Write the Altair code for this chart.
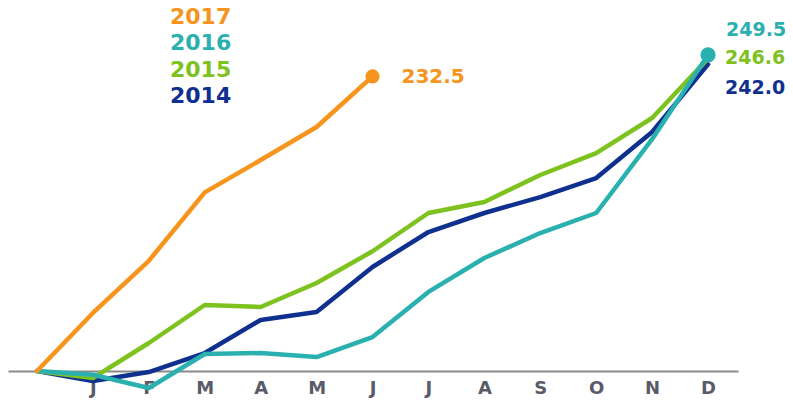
import altair as alt
import pandas as pd

months = ["", "J", "F", "M", "A", "M", "J", "J", "A", "S", "O", "N", "D"]
years = ["2017", "2016", "2015", "2014"]
colors = ["#F7941D", "#2BB0B0", "#7DC21E", "#10308F"]

v2017 = [0, 45.8, 87.0, 141.0, 166.5, 192.6, 232.5]
v2016 = [0, -3.0, -13.4, 13.4, 14.2, 11.0, 26.8, 62.4, 89.2, 108.9, 124.7, 183.0, 249.5]
v2015 = [0, -5.5, 22.1, 52.1, 50.5, 69.5, 94.5, 124.7, 133.4, 154.7, 172.0, 199.7, 246.6]
v2014 = [0, -7.9, -0.8, 14.2, 40.3, 46.6, 82.1, 109.7, 124.7, 137.3, 152.3, 188.6, 242.0]
series = [v2017, v2016, v2015, v2014]
end_labels = ["232.5", "249.5", "246.6", "242.0"]

rows = []
for yr, vals in zip(years, series):
    for i, v in enumerate(vals):
        rows.append({"year": yr, "m": i, "value": v})
df = pd.DataFrame(rows)

xscale = alt.Scale(domain=[-0.5186, 12.536], nice=False, zero=False)
yscale = alt.Scale(domain=[0, 286.5], nice=False, zero=False)

label_expr = "[" + ",".join("'" + m + "'" for m in months) + "][datum.value]"

layers = []
# draw order bottom -> top : 2014, 2015, 2016, 2017
for idx in [3, 2, 1, 0]:
    sub = df[df.year == years[idx]]
    enc_x = alt.X("m:Q", scale=xscale,
                  axis=alt.Axis(values=list(range(1, 13)), labelExpr=label_expr,
                                title=None, grid=False, ticks=False,
                                domainColor="#8a8a8a", domainWidth=2,
                                labelFont="DejaVu Sans", labelFontSize=18,
                                labelFontWeight="bold",
                                labelColor="#5a5a68", labelPadding=8,
                                labelFlush=False, labelOverlap=False)) if idx == 3 else alt.X("m:Q", scale=xscale)
    enc_y = alt.Y("value:Q", scale=yscale, axis=None)
    layers.append(
        alt.Chart(sub).mark_line(color=colors[idx], strokeWidth=4.5,
                                 strokeJoin="round", strokeCap="round")
        .encode(x=enc_x, y=enc_y)
    )

# end dots
for idx, size in [(0, 200), (1, 230)]:
    sub = df[df.year == years[idx]].tail(1)
    layers.append(
        alt.Chart(sub).mark_circle(color=colors[idx], size=size, opacity=1)
        .encode(x=alt.X("m:Q", scale=xscale), y=alt.Y("value:Q", scale=yscale))
    )

# value labels at line ends
offsets = {0: (29, 1), 1: (18, -25), 2: (17, -1), 3: (17, 24)}
for idx in range(4):
    sub = df[df.year == years[idx]].tail(1).copy()
    sub["label"] = end_labels[idx]
    dx, dy = offsets[idx]
    layers.append(
        alt.Chart(sub).mark_text(color=colors[idx], font="DejaVu Sans",
                                 fontWeight="bold", fontSize=20 if idx == 0 else 19,
                                 align="left", baseline="middle", dx=dx, dy=dy)
        .encode(x=alt.X("m:Q", scale=xscale), y=alt.Y("value:Q", scale=yscale),
                text="label:N")
    )

# legend (year names) top-left
leg = pd.DataFrame({"year": years, "rank": list(range(4))})
for idx in range(4):
    layers.append(
        alt.Chart(leg[leg["rank"] == idx]).mark_text(
            color=colors[idx], font="DejaVu Sans", fontWeight="bold",
            fontSize=22, align="left", baseline="alphabetic")
        .encode(x=alt.value(162), y=alt.value(16 + 26.4 * idx), text="year:N")
    )

chart = alt.layer(*layers).properties(
    width=730, height=363,
    autosize=alt.AutoSizeParams(type="none"),
    padding={"left": 0, "top": 0, "right": 47, "bottom": 28},
).configure_view(stroke=None)

chart.save("out.html", embed_options={"renderer": "svg", "actions": False})
